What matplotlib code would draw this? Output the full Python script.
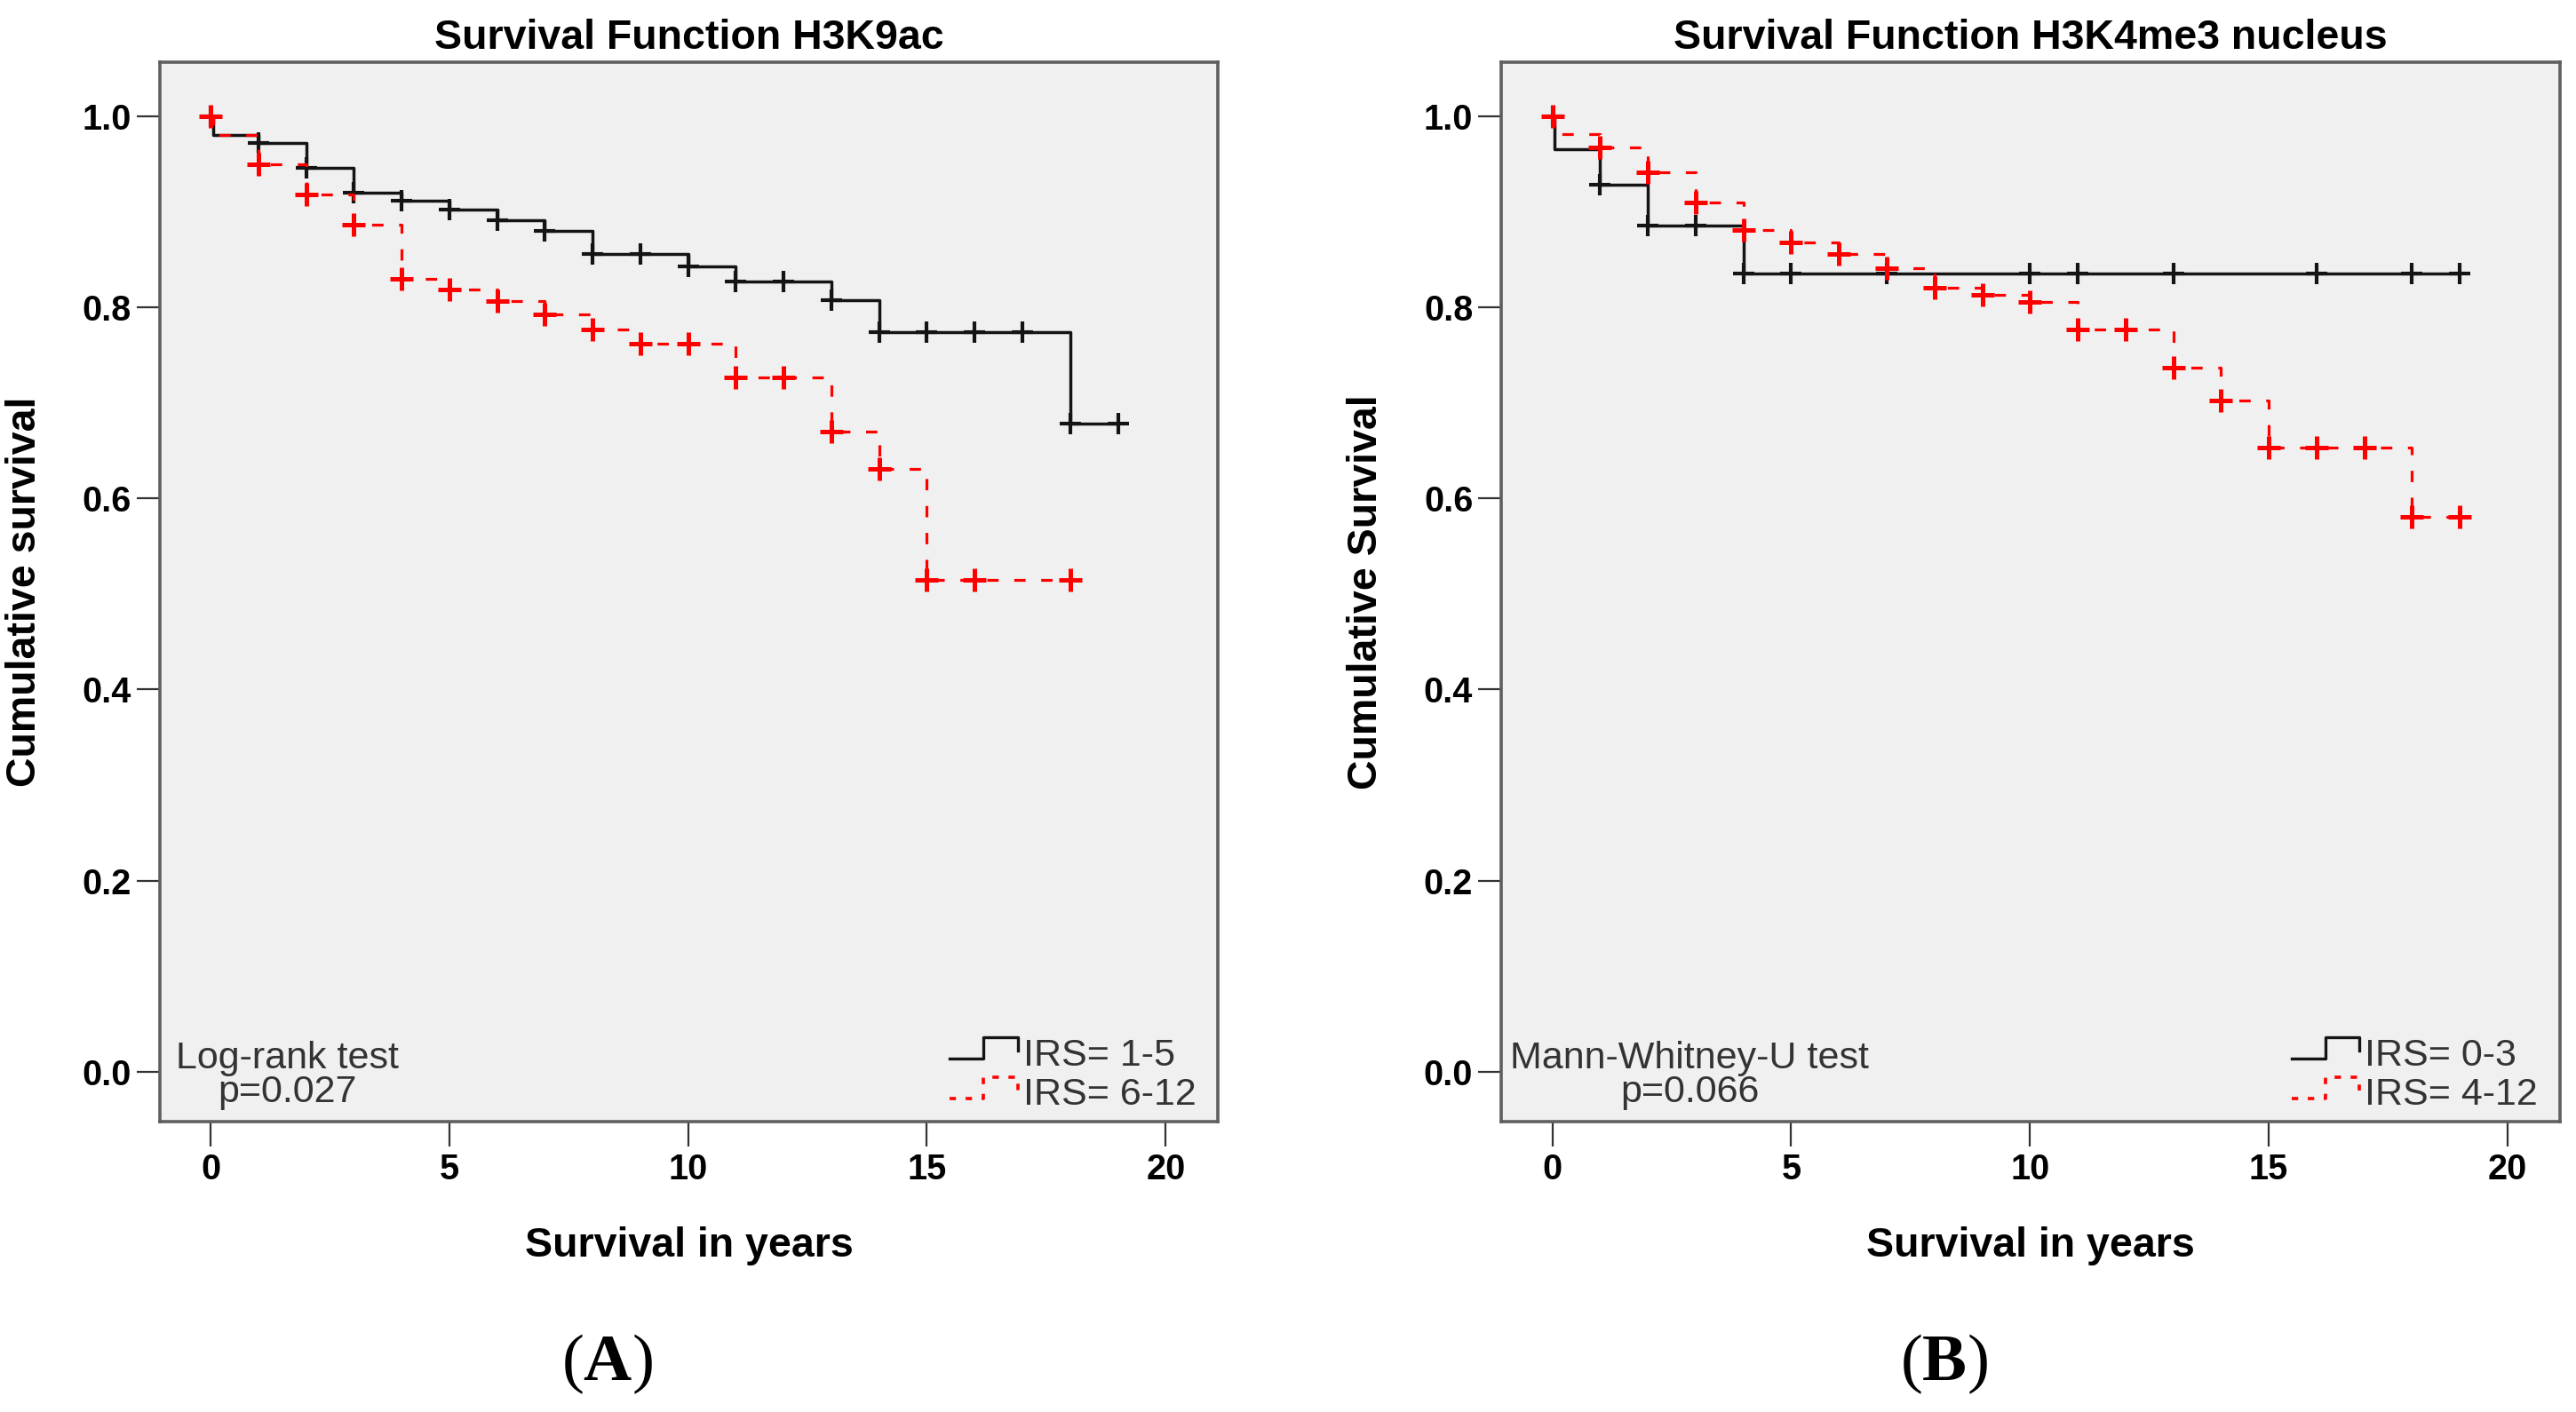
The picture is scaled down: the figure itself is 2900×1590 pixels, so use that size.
import numpy as np
import matplotlib
matplotlib.use("Agg")
import matplotlib.pyplot as plt
from matplotlib.lines import Line2D
from matplotlib.legend_handler import HandlerBase

plt.rcParams['font.family'] = ['Liberation Sans', 'DejaVu Sans']
plt.rcParams['mathtext.fontset'] = 'custom'
plt.rcParams['mathtext.rm'] = 'Liberation Serif'
plt.rcParams['mathtext.bf'] = 'Liberation Serif:bold'

# panel A - H3K9ac
a_low_times = [0, 0.05, 1, 2, 3, 4, 5, 6, 7, 8, 10, 11, 13, 14, 18]
a_low_surv = [1.0, 0.980, 0.972, 0.946, 0.920, 0.911, 0.902, 0.891, 0.880, 0.856, 0.843, 0.827, 0.807, 0.774, 0.678]
a_low_end = 19
a_low_cens = [0, 1, 2, 3, 4, 5, 6, 7, 8, 9, 10, 11, 12, 13, 14, 15, 16, 17, 18, 19]

a_high_times = [0, 0.05, 1, 2, 3, 4, 5, 6, 7, 8, 9, 11, 13, 14, 15]
a_high_surv = [1.0, 0.980, 0.949, 0.918, 0.886, 0.830, 0.818, 0.806, 0.792, 0.777, 0.762, 0.726, 0.670, 0.631, 0.515]
a_high_end = 18
a_high_cens = [0, 1, 2, 3, 4, 5, 6, 7, 8, 9, 10, 11, 12, 13, 14, 15, 16, 18]

# panel B - H3K4me3 nucleus
b_low_times = [0, 0.05, 1, 2, 4]
b_low_surv = [1.0, 0.965, 0.928, 0.885, 0.835]
b_low_end = 19
b_low_cens = [0, 1, 2, 3, 4, 5, 7, 10, 11, 13, 16, 18, 19]

b_high_times = [0, 0.05, 1, 2, 3, 4, 5, 6, 7, 8, 9, 10, 11, 13, 14, 15, 18]
b_high_surv = [1.0, 0.981, 0.967, 0.941, 0.909, 0.881, 0.868, 0.856, 0.841, 0.820, 0.813, 0.805, 0.777, 0.737, 0.702, 0.653, 0.581]
b_high_end = 19
b_high_cens = [0, 1, 2, 3, 4, 5, 6, 7, 8, 9, 10, 11, 12, 13, 14, 15, 16, 17, 18, 19]

x_ticks = [0, 5, 10, 15, 20]
y_ticks = [0.0, 0.2, 0.4, 0.6, 0.8, 1.0]

BG = '#f0f0f0'
FRAME = '#5f5f5f'
TXT = '#333333'
BLACK = '#141414'
RED = '#ff0000'


class StepHandler(HandlerBase):
    # legend glyph drawn like the little SPSS step icon
    def create_artists(self, legend, orig_handle, xdescent, ydescent, width, height, fontsize, trans):
        xs = np.array([0.0, 0.48, 0.48, 0.97, 0.97]) * width - xdescent
        ys = np.array([0.25, 0.25, 1.05, 1.05, 0.55]) * height - ydescent
        line = Line2D(xs, ys)
        line.update_from(orig_handle)
        line.set_marker('')
        line.set_transform(trans)
        return [line]


def surv_at(times, surv, x):
    idx = np.searchsorted(times, x, side='right') - 1
    return np.array(surv)[idx]


def km_curve(ax, times, surv, end, cens, ms=17, mew=2.8, **kw):
    xs = list(times) + [end]
    ys = list(surv) + [surv[-1]]
    line, = ax.step(xs, ys, where='post', **kw)
    ax.plot(cens, surv_at(times, surv, cens), linestyle='none', marker='+',
            color=kw['color'], markersize=ms, markeredgewidth=mew,
            zorder=kw.get('zorder', 2) + 0.5)
    return line


def panel(ax, low, high, title, ylabel, test_text, text_x, labels):
    ax.set_facecolor(BG)
    km_curve(ax, *low, color=BLACK, linewidth=2.5, zorder=3, ms=17, mew=3.0)
    km_curve(ax, *high, color=RED, linewidth=2.3, dashes=(4, 5.5), zorder=4, ms=19, mew=3.6)

    ax.set_xlim(-1.07, 21.1)
    ax.set_ylim(-0.052, 1.056)
    ax.set_xticks(x_ticks)
    ax.set_yticks(y_ticks)
    ax.set_yticklabels([f'{v:.1f}' for v in y_ticks])
    ax.tick_params(axis='x', direction='out', length=20, width=1.6, color=TXT, pad=5,
                   labelsize=28.5)
    ax.tick_params(axis='y', direction='out', length=19, width=1.6, color=TXT, pad=4,
                   labelsize=28.5)
    for lab in ax.get_xticklabels() + ax.get_yticklabels():
        lab.set_fontweight('bold')
    for sp in ax.spines.values():
        sp.set_color(FRAME)
        sp.set_linewidth(2.6)

    ax.set_title(title, fontsize=33.5, fontweight='bold', pad=11)
    ax.set_xlabel('Survival in years', fontsize=33.5, fontweight='bold')
    ax.set_ylabel(ylabel, fontsize=33.5, fontweight='bold')
    ax.xaxis.set_label_coords(0.5, -0.099)
    ax.yaxis.set_label_coords(-0.109, 0.5)

    ax.text(text_x, 0.018, test_text, transform=ax.transAxes, ha='center', va='baseline',
            multialignment='center', fontsize=31, color=TXT, linespacing=0.95)

    h1 = Line2D([], [], color=BLACK, linewidth=2.4)
    h2 = Line2D([], [], color=RED, linewidth=2.6, dashes=(2, 3))
    leg = ax.legend([h1, h2], labels, loc='lower right', bbox_to_anchor=(0.979, 0.008),
                    frameon=False, fontsize=31, borderpad=0, borderaxespad=0,
                    handlelength=1.84, handletextpad=0.08, labelspacing=0.1,
                    handler_map={Line2D: StepHandler()})
    for t in leg.get_texts():
        t.set_color(TXT)


fig = plt.figure(figsize=(29, 15.9), dpi=100)
ax_a = fig.add_axes([0.0619, 0.2058, 0.411, 0.750])
ax_b = fig.add_axes([0.5828, 0.2058, 0.411, 0.750])

panel(ax_a,
      (a_low_times, a_low_surv, a_low_end, a_low_cens),
      (a_high_times, a_high_surv, a_high_end, a_high_cens),
      'Survival Function H3K9ac', 'Cumulative survival',
      'Log-rank test\np=0.027', 0.1204, ['IRS= 1-5', 'IRS= 6-12'])
panel(ax_b,
      (b_low_times, b_low_surv, b_low_end, b_low_cens),
      (b_high_times, b_high_surv, b_high_end, b_high_cens),
      'Survival Function H3K4me3 nucleus', 'Cumulative Survival',
      'Mann-Whitney-U test\np=0.066', 0.178, ['IRS= 0-3', 'IRS= 4-12'])

fig.text(0.2355, 0.034, r'$\mathrm{(}\mathbf{A}\mathrm{)}$', ha='center', va='center', fontsize=54)
fig.text(0.7545, 0.034, r'$\mathrm{(}\mathbf{B}\mathrm{)}$', ha='center', va='center', fontsize=54)

fig.savefig('out.png', dpi=100, facecolor='white')
